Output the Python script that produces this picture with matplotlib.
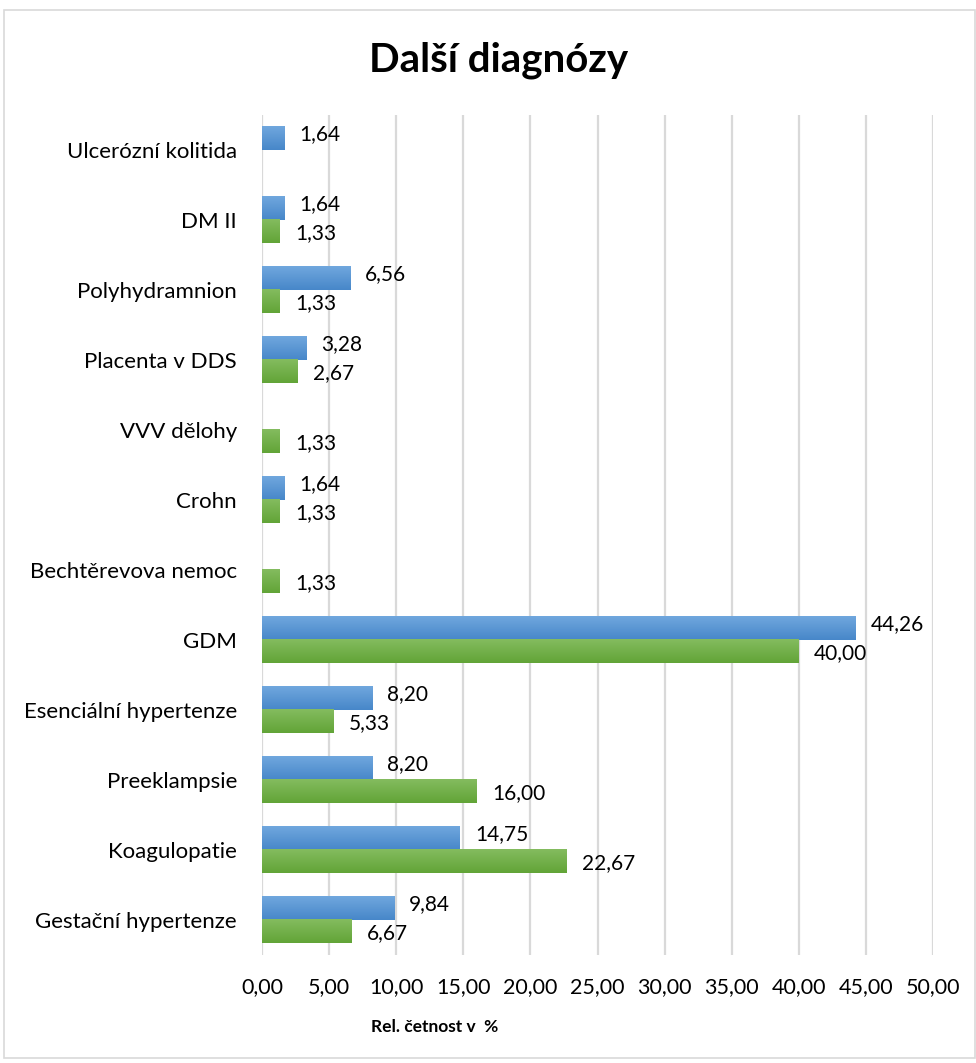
import numpy as np
import matplotlib
matplotlib.use('Agg')
import matplotlib.pyplot as plt
from matplotlib.patches import Rectangle

# data (bottom to top)
categories = ['Gestační hypertenze', 'Koagulopatie', 'Preeklampsie', 'Esenciální hypertenze',
              'GDM', 'Bechtěrevova nemoc', 'Crohn', 'VVV dělohy', 'Placenta v DDS',
              'Polyhydramnion', 'DM II', 'Ulcerózní kolitida']
blue_vals = [9.84, 14.75, 8.20, 8.20, 44.26, None, 1.64, None, 3.28, 6.56, 1.64, 1.64]
green_vals = [6.67, 22.67, 16.00, 5.33, 40.00, 1.33, 1.33, 1.33, 2.67, 1.33, 1.33, None]
xticks = [0, 5, 10, 15, 20, 25, 30, 35, 40, 45, 50]

plt.rcParams['font.family'] = ['Lato', 'DejaVu Sans']

fig = plt.figure(figsize=(9.76, 10.63), dpi=100)
ax = fig.add_axes([262/976, 1-955/1063, 671/976, 840/1063])

# outer chart border
fig.patches.append(Rectangle((4/976, 5/1063), 971/976, 1048/1063, transform=fig.transFigure,
                             fill=False, edgecolor='#D9D9D9', lw=1.2))

h = 0.33
y = np.arange(len(categories))
grad = np.linspace(0, 1, 50).reshape(-1, 1, 1)
blue_lo, blue_hi = np.array([0x47, 0x87, 0xC9]) / 255, np.array([0x70, 0xA7, 0xDE]) / 255
green_lo, green_hi = np.array([0x62, 0xA4, 0x37]) / 255, np.array([0x84, 0xBC, 0x5F]) / 255

for i in range(len(categories)):
    b = blue_vals[i]
    g = green_vals[i]
    if b is not None:
        yc = y[i] + h/2
        ax.imshow(blue_lo + (blue_hi - blue_lo) * grad, extent=[0, b, yc - h/2, yc + h/2],
                  origin='lower', aspect='auto', zorder=3)
        ax.annotate(f'{b:.2f}'.replace('.', ','), (b, yc), xytext=(11, 3),
                    textcoords='offset points', va='center', ha='left', fontsize=15)
    if g is not None:
        yc = y[i] - h/2
        ax.imshow(green_lo + (green_hi - green_lo) * grad, extent=[0, g, yc - h/2, yc + h/2],
                  origin='lower', aspect='auto', zorder=3)
        ax.annotate(f'{g:.2f}'.replace('.', ','), (g, yc), xytext=(11, -1),
                    textcoords='offset points', va='center', ha='left', fontsize=15)

ax.set_xlim(0, 50)
ax.set_ylim(-0.5, len(categories) - 0.5)
ax.set_xticks(xticks)
ax.set_xticklabels([f'{t:.2f}'.replace('.', ',') for t in xticks], fontsize=15.5)
ax.set_yticks(y)
ax.set_yticklabels(categories, fontsize=16)
ax.tick_params(length=0)
ax.tick_params(axis='y', pad=18)
ax.tick_params(axis='x', pad=16)
ax.xaxis.grid(True, color='#D9D9D9', lw=1.6, zorder=0)
ax.set_axisbelow(True)
for s in ax.spines.values():
    s.set_visible(False)

fig.text(499/976, 1-60/1063, 'Další diagnózy', ha='center', va='center',
         fontsize=29, fontweight='bold')
fig.text(435/976, 1-1027/1063, 'Rel. četnost v  %', ha='center', va='center',
         fontsize=12.5, fontweight='bold')

fig.savefig('out.png', dpi=100)
